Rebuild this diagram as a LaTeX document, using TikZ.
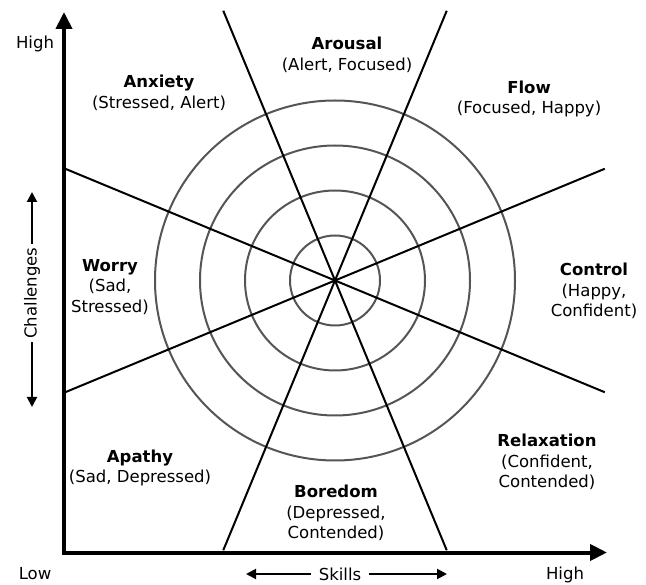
\documentclass[tikz,border=0pt]{standalone}
\usepackage{fontspec}
\setmainfont{DejaVu Sans}
\usetikzlibrary{arrows.meta,calc}
\definecolor{ringgray}{RGB}{85,85,85}
\tikzset{
  font=\fontsize{16.5}{20.5}\selectfont,
  axis/.style={draw,line width=4pt,{Triangle[length=17pt,width=16pt]}-{Triangle[length=17pt,width=16pt]}},
  divider/.style={draw,line width=2pt},
  ring/.style={draw=ringgray,line width=2pt},
  zone/.style={align=center,inner sep=0},
  tag/.style={inner sep=0},
  dir/.style={draw,line width=2pt,-{Triangle[length=10pt,width=10pt]}}
}

\begin{document}
\begin{tikzpicture}[x=1pt,y=-1pt]
    \useasboundingbox (0,0) rectangle (646,585);
    \coordinate (c) at (335,280.5);

    \foreach \r in {45,90,135,180}
      \path [ring] (c) circle [radius=\r pt];
    \foreach \a in {22.5,67.5,112.5,157.5}
      \path [divider] ($(c)+(\a:292)$) -- ($(c)+(\a+180:292)$);

    \coordinate (origin) at (64,552.5);
    \coordinate (ytip) at (64,12);
    \coordinate (xtip) at (607,552.5);
    \path [axis] (ytip) -- (origin) -- (xtip);

    \node (high) [tag] at (35,44) {High};
    \node (low) [tag] at (35,574) {Low};
    \node (highx) [tag] at (565,575) {High};

    \node (skills) [tag,inner xsep=8pt] at (340,574) {Skills};
    \coordinate (skillsleft) at (246,574);
    \coordinate (skillsright) at (447,574);
    \path [dir] (skills) -- (skillsleft);
    \path [dir] (skills) -- (skillsright);

    \node (challenges) [rotate=90] at (32,293) {Challenges};
    \coordinate (challup) at (32,192);
    \coordinate (challdown) at (32,407);
    \path [dir] (challenges) -- (challup);
    \path [dir] (challenges) -- (challdown);

    \node (anxiety) [zone] at (159,93) {\textbf{Anxiety}\\(Stressed, Alert)};
    \node (arousal) [zone] at (347,55) {\textbf{Arousal}\\(Alert, Focused)};
    \node (flow) [zone] at (529,99) {\textbf{Flow}\\(Focused, Happy)};
    \node (worry) [zone] at (110,287) {\textbf{Worry}\\(Sad,\\Stressed)};
    \node (control) [zone] at (594,291) {\textbf{Control}\\(Happy,\\Confident)};
    \node (apathy) [zone] at (140,468) {\textbf{Apathy}\\(Sad, Depressed)};
    \node (relaxation) [zone] at (547,462) {\textbf{Relaxation}\\(Confident,\\Contended)};
    \node (boredom) [zone] at (336,513) {\textbf{Boredom}\\(Depressed,\\Contended)};
\end{tikzpicture}
\end{document}
